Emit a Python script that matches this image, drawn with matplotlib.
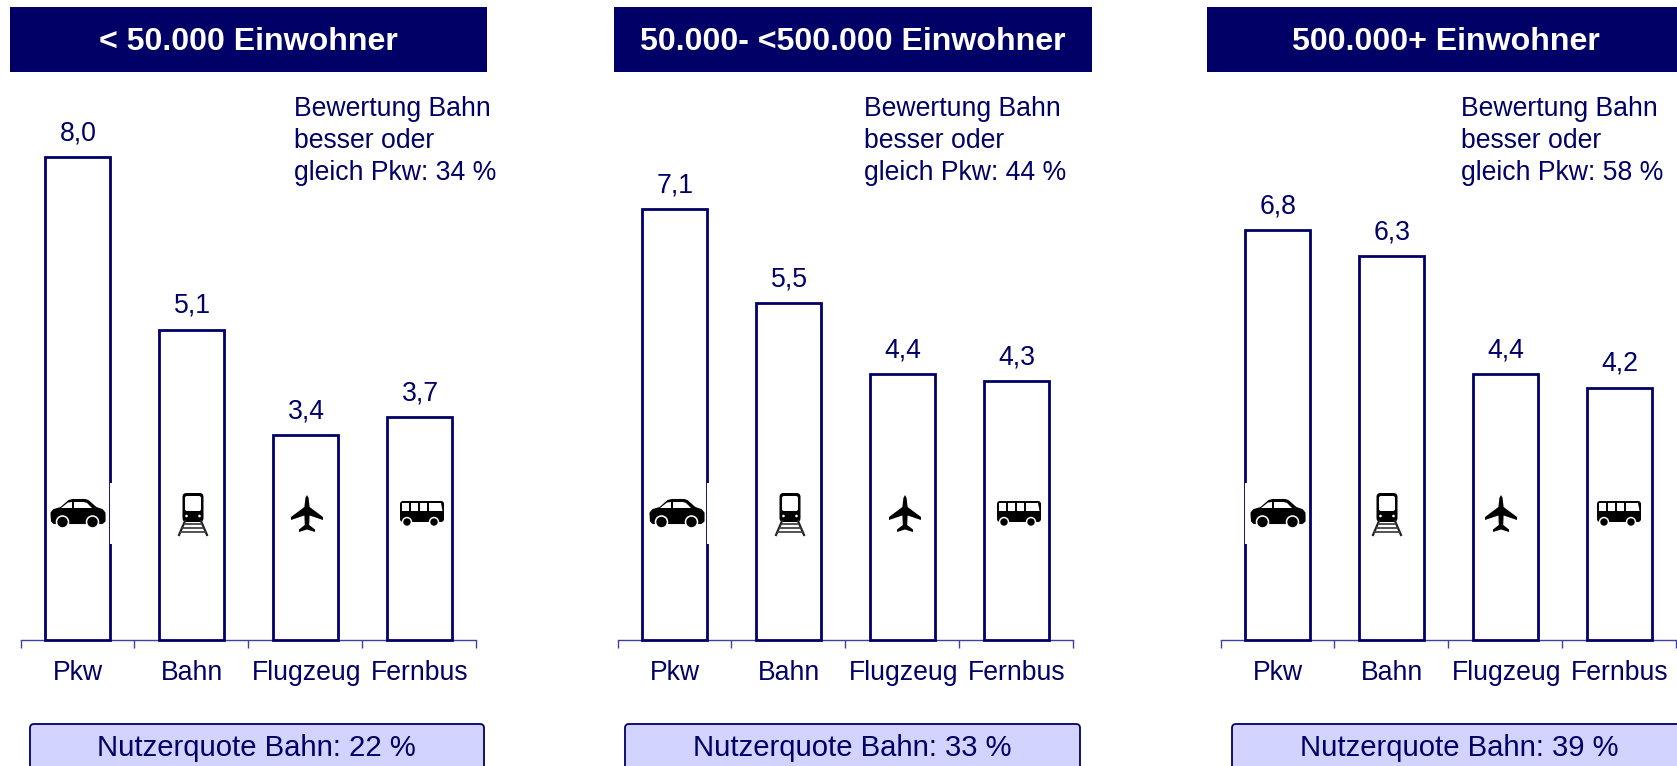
import matplotlib
matplotlib.use("Agg")
import matplotlib.pyplot as plt
from matplotlib.patches import Rectangle, FancyBboxPatch, Polygon, Circle

plt.rcParams['font.family'] = ['Liberation Sans', 'DejaVu Sans']

W, H = 1677, 766
NAVY = '#000066'
FILL = '#D3D3FF'

categories = ['Pkw', 'Bahn', 'Flugzeug', 'Fernbus']
headers = ['< 50.000 Einwohner', '50.000- <500.000 Einwohner', '500.000+ Einwohner']
# bar heights (slightly finer than the printed one-decimal labels)
heights_small = [8.0, 5.14, 3.39, 3.69]
heights_medium = [7.14, 5.58, 4.4, 4.28]
heights_large = [6.78, 6.36, 4.4, 4.18]
labels_small = ['8,0', '5,1', '3,4', '3,7']
labels_medium = ['7,1', '5,5', '4,4', '4,3']
labels_large = ['6,8', '6,3', '4,4', '4,2']
panel_heights = [heights_small, heights_medium, heights_large]
panel_labels = [labels_small, labels_medium, labels_large]
better_share = [34, 44, 58]
user_share = [22, 33, 39]

AX_LEFT = [20.5, 617.5, 1220.5]
AX_W = 455.5
HEAD = [(10, 487), (614, 1092), (1207, 1677)]
HEAD_TEXT_X = [248, 853, 1446]
NOTE_X = [294.5, 864, 1461]
BOX = [(30, 484), (625, 1080), (1232, 1700)]
BOX_TEXT_X = [256.5, 852.5, 1459]
BASE_Y = 640
PX_PER_UNIT = 60.4

fig = plt.figure(figsize=(W / 100, H / 100), dpi=100, facecolor='white')
ov = fig.add_axes([0, 0, 1, 1], zorder=5)
ov.set_xlim(0, W); ov.set_ylim(H, 0); ov.axis('off')


def poly(cx, cy, pts, fc='black', lw=0.0):
    ov.add_patch(Polygon([(cx + x, cy + y) for x, y in pts], closed=True, fc=fc,
                         ec=fc if lw else 'none', lw=lw, joinstyle='round'))


def car(cx, cy):
    poly(cx, cy, [(-26, 8), (-26.5, 0), (-24, -3), (-17, -5), (-9, -12), (-5, -13), (7, -13), (10, -12),
                  (18, -5), (24, -3), (26.5, 0), (26.5, 8), (24, 10), (-24, 10)], lw=1.5)
    poly(cx, cy, [(-17, -5), (-10, -10.5), (-6, -11), (-6, -5)], fc='white')
    poly(cx, cy, [(-4, -11), (6, -11), (9, -10), (14, -5), (-4, -5)], fc='white')
    for wx in (-15.5, 14.5):
        ov.add_patch(Circle((cx + wx, cy + 9), 6.8, fc='white', ec='none'))
        ov.add_patch(Circle((cx + wx, cy + 9), 5.2, fc='black', ec='none'))


def train(cx, cy):
    ov.add_patch(FancyBboxPatch((cx - 10.5, cy - 20), 21, 29, boxstyle='round,pad=0,rounding_size=4',
                                fc='black', ec='none'))
    ov.add_patch(FancyBboxPatch((cx - 8, cy - 17), 16, 15, boxstyle='round,pad=0,rounding_size=2',
                                fc='white', ec='none'))
    for dx in (-6.5, 6.5):
        ov.add_patch(Circle((cx + dx, cy + 3), 1.3, fc='white', ec='none'))
    ov.plot([cx - 8, cx - 14], [cy + 8, cy + 22], color='#222222', lw=1.6)
    ov.plot([cx + 8, cx + 14], [cy + 8, cy + 22], color='#222222', lw=1.6)
    for dy, hw in [(11, 8), (15, 10), (19, 12)]:
        ov.plot([cx - hw, cx + hw], [cy + dy, cy + dy], color='#444444', lw=1.3)


def plane(cx, cy):
    pts = [(0, -19), (1.6, -16), (2.6, -7), (16, 3), (16, 6), (2.6, 1.5), (2.2, 11), (8, 15.5), (8, 18),
           (0, 15.5), (-8, 18), (-8, 15.5), (-2.2, 11), (-2.6, 1.5), (-16, 6), (-16, 3), (-2.6, -7), (-1.6, -16)]
    poly(cx, cy, pts)


def bus(cx, cy):
    ov.add_patch(FancyBboxPatch((cx - 22, cy - 11), 44, 21, boxstyle='round,pad=0,rounding_size=3',
                                fc='black', ec='none'))
    for x0, w in [(-20, 7), (-11, 7), (-2, 7), (7, 9)]:
        ov.add_patch(Rectangle((cx + x0, cy - 9), w, 8, fc='white', ec='none'))
    poly(cx, cy, [(16, -9), (19, -9), (20.5, -1), (16, -1)], fc='white')
    for wx in (-15, 12):
        ov.add_patch(Circle((cx + wx, cy + 10), 5.2, fc='white', ec='none'))
        ov.add_patch(Circle((cx + wx, cy + 10), 3.7, fc='black', ec='none'))


icons = [car, train, plane, bus]
# icon centre x in pixels, per panel
ICON_X = [[78, 193, 307, 422], [677, 790, 905, 1019], [1244 + 34, 1387, 1501, 1619]]
ICON_CY = [513, 513, 514, 512]
# where the white icon background nibbles the Pkw bar's outline: (x0, width)
NIBBLE = [(110.0, 1.6), (707.0, 1.6), (1245.2, 1.6)]

for p, vals in enumerate(panel_heights):
    left = AX_LEFT[p]
    ax = fig.add_axes([left / W, (H - BASE_Y) / H, AX_W / W, (BASE_Y - 80) / H])
    ax.set_xlim(0, 4)
    ax.set_ylim(0, (BASE_Y - 80) / PX_PER_UNIT)
    ax.patch.set_alpha(0)
    xs = [i + 0.5 for i in range(len(categories))]
    ax.bar(xs, vals, width=0.57, fc='white', ec=NAVY, lw=2.0, clip_on=False, zorder=3)
    for x, v, lab in zip(xs, vals, panel_labels[p]):
        ax.annotate(lab, (x, v), xytext=(0.7, 12.0), textcoords='offset points',
                    ha='center', va='baseline', fontsize=19.2, color=NAVY, annotation_clip=False)
    for s in ('top', 'left', 'right'):
        ax.spines[s].set_visible(False)
    ax.spines['bottom'].set_color('#4040A0')
    ax.spines['bottom'].set_linewidth(1.0)
    ax.set_yticks([])
    ax.set_xticks(range(5))
    ax.set_xticklabels([])
    ax.tick_params(axis='x', direction='out', length=5.5, width=1.0, color='#4040A0')
    for x, c in zip(xs, categories):
        ax.annotate(c, (x, 0), xytext=(0.7, -28.8), textcoords='offset points', ha='center', va='baseline',
                    fontsize=19.2, color=NAVY, annotation_clip=False)

    # header
    x0, x1 = HEAD[p]
    ov.add_patch(Rectangle((x0, 7), x1 - x0, 65, fc=NAVY, ec='none'))
    ov.text(HEAD_TEXT_X[p], 50, headers[p], ha='center', va='baseline', color='white',
            fontsize=23.15, fontweight='bold')

    # note
    for y, line in zip((116, 148, 180), ('Bewertung Bahn', 'besser oder', f'gleich Pkw: {better_share[p]} %')):
        ov.text(NOTE_X[p], y, line, ha='left', va='baseline', color=NAVY, fontsize=19.2)

    # bottom box
    x0, x1 = BOX[p]
    ov.add_patch(FancyBboxPatch((x0, 724), x1 - x0, 60, boxstyle='round,pad=0,rounding_size=4',
                                fc=FILL, ec=NAVY, lw=1.3))
    ov.text(BOX_TEXT_X[p], 756, f'Nutzerquote Bahn: {user_share[p]} %', ha='center', va='baseline',
            color=NAVY, fontsize=21.1)

    # white icon background nibble on the Pkw bar, then the icons
    nx, nw = NIBBLE[p]
    ov.add_patch(Rectangle((nx, 483), nw, 61, fc='white', ec='none'))
    for i, icon in enumerate(icons):
        icon(ICON_X[p][i], ICON_CY[i])

fig.savefig('out.png', dpi=100)
